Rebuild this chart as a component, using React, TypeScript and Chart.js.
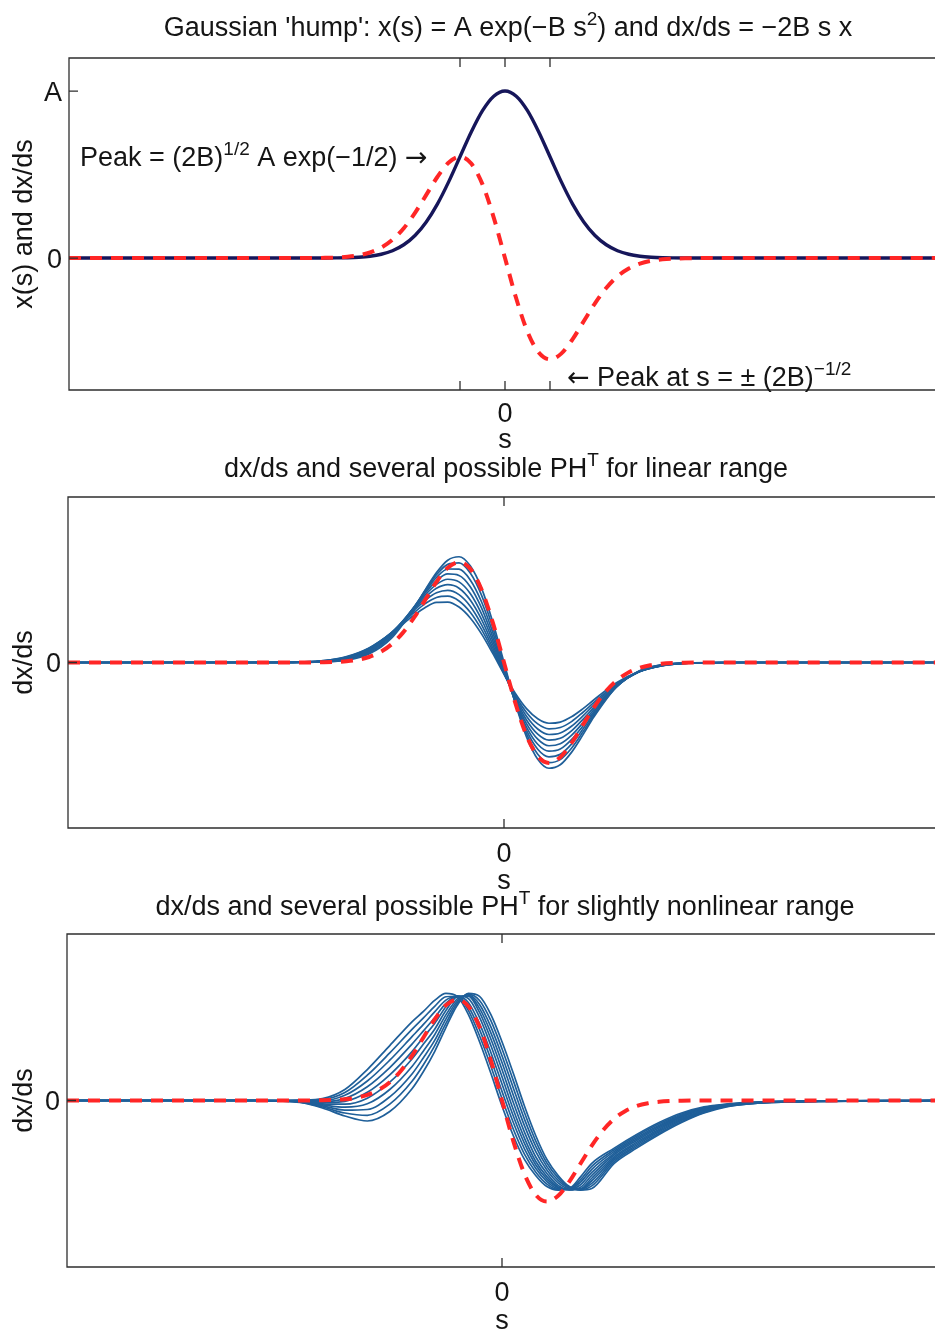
import React, { useEffect, useRef } from "react";
import { Chart, registerables } from "chart.js";

Chart.register(...registerables);

// ---------------- data ----------------
// s in units of (2B)^(-1/2); y in units of A
const X_MIN = -9.69;
const X_MAX = 9.69;

const S_FINE = [-9.69, -6, -4.5, -4, -3.75, -3.5, -3.25, -3, -2.75, -2.5, -2.25, -2, -1.75, -1.5, -1.25, -1, -0.75, -0.5, -0.25, 0,
  0.25, 0.5, 0.75, 1, 1.25, 1.5, 1.75, 2, 2.25, 2.5, 2.75, 3, 3.25, 3.5, 3.75, 4, 4.5, 6, 9.69];

const HUMP = [0, 0, 0, 0.0003, 0.0009, 0.0022, 0.0051, 0.0111, 0.0228, 0.0439, 0.0796, 0.1353, 0.2163, 0.3247, 0.4578, 0.6065, 0.7548, 0.8825, 0.9692, 1,
  0.9692, 0.8825, 0.7548, 0.6065, 0.4578, 0.3247, 0.2163, 0.1353, 0.0796, 0.0439, 0.0228, 0.0111, 0.0051, 0.0022, 0.0009, 0.0003, 0, 0, 0];

const DXDS = [0, 0, 0.0002, 0.0013, 0.0033, 0.0077, 0.0165, 0.0333, 0.0627, 0.1098, 0.179, 0.2707, 0.3785, 0.487, 0.5722, 0.6065, 0.5661, 0.4412, 0.2423, 0,
  -0.2423, -0.4412, -0.5661, -0.6065, -0.5722, -0.487, -0.3785, -0.2707, -0.179, -0.1098, -0.0627, -0.0333, -0.0165, -0.0077, -0.0033, -0.0013, -0.0002, 0, 0];

const S_LIN = [-9.69, -5, -4, -3.5, -3, -2.5, -2, -1.75, -1.5, -1.25, -1, -0.75, -0.5, -0.25, 0,
  0.25, 0.5, 0.75, 1, 1.25, 1.5, 1.75, 2, 2.5, 3, 3.5, 4, 5, 9.69];

const PH_LINEAR = [
  [0, 0, 0.003, 0.014, 0.051, 0.147, 0.328, 0.439, 0.543, 0.618, 0.639, 0.584, 0.449, 0.244, 0, -0.244, -0.449, -0.584, -0.639, -0.618, -0.543, -0.439, -0.328, -0.147, -0.051, -0.014, -0.003, 0, 0],
  [0, 0, 0.004, 0.016, 0.057, 0.157, 0.333, 0.436, 0.53, 0.593, 0.602, 0.541, 0.407, 0.212, -0.016, -0.242, -0.43, -0.554, -0.605, -0.587, -0.518, -0.422, -0.318, -0.148, -0.053, -0.015, -0.003, 0, 0],
  [0, 0, 0.005, 0.019, 0.063, 0.165, 0.335, 0.43, 0.514, 0.565, 0.564, 0.499, 0.367, 0.182, -0.03, -0.238, -0.41, -0.524, -0.57, -0.555, -0.493, -0.404, -0.308, -0.147, -0.054, -0.016, -0.004, 0, 0],
  [0, 0, 0.006, 0.022, 0.069, 0.172, 0.334, 0.421, 0.494, 0.535, 0.526, 0.458, 0.33, 0.155, -0.042, -0.233, -0.39, -0.494, -0.536, -0.523, -0.466, -0.385, -0.297, -0.145, -0.056, -0.017, -0.004, 0, 0],
  [0, 0, 0.007, 0.025, 0.075, 0.177, 0.33, 0.409, 0.472, 0.503, 0.487, 0.417, 0.294, 0.131, -0.051, -0.226, -0.369, -0.463, -0.503, -0.491, -0.44, -0.366, -0.284, -0.142, -0.056, -0.018, -0.005, 0, 0],
  [0, 0, 0.008, 0.028, 0.079, 0.18, 0.323, 0.394, 0.448, 0.47, 0.449, 0.378, 0.261, 0.108, -0.059, -0.218, -0.347, -0.433, -0.469, -0.458, -0.413, -0.345, -0.271, -0.139, -0.057, -0.019, -0.005, 0, 0],
  [0, 0, 0.009, 0.031, 0.083, 0.181, 0.314, 0.376, 0.421, 0.436, 0.41, 0.34, 0.229, 0.088, -0.064, -0.208, -0.325, -0.402, -0.435, -0.426, -0.385, -0.324, -0.256, -0.134, -0.056, -0.019, -0.005, 0, 0],
  [0, 0.001, 0.011, 0.033, 0.086, 0.18, 0.301, 0.356, 0.393, 0.401, 0.372, 0.304, 0.2, 0.071, -0.068, -0.198, -0.302, -0.371, -0.401, -0.393, -0.357, -0.302, -0.241, -0.129, -0.056, -0.02, -0.006, 0, 0],
  [0, 0.001, 0.012, 0.036, 0.088, 0.177, 0.286, 0.333, 0.363, 0.365, 0.335, 0.269, 0.173, 0.055, -0.07, -0.186, -0.279, -0.34, -0.367, -0.36, -0.328, -0.28, -0.225, -0.122, -0.054, -0.02, -0.006, 0, 0],
];

const S_NONLIN = [-9.69, -6, -5.5, -5, -4.5, -4, -3.5, -3, -2.5, -2, -1.75, -1.5, -1.25, -1, -0.75, -0.5, -0.25, 0,
  0.25, 0.5, 0.75, 1, 1.25, 1.5, 1.75, 2, 2.5, 3, 3.5, 4, 4.5, 5, 5.5, 6, 9.69];

const PH_NONLINEAR = [
  [0, 0, 0, 0, 0.003, 0.012, 0.066, 0.186, 0.33, 0.474, 0.535, 0.601, 0.643, 0.625, 0.517, 0.353, 0.165, -0.033, -0.21, -0.354, -0.45, -0.517, -0.538, -0.529, -0.459, -0.377, -0.286, -0.204, -0.132, -0.075, -0.038, -0.021, -0.012, -0.006, 0],
  [0, 0, 0, 0, 0.001, 0.006, 0.048, 0.152, 0.286, 0.429, 0.496, 0.566, 0.623, 0.626, 0.541, 0.389, 0.207, 0.011, -0.171, -0.322, -0.429, -0.502, -0.533, -0.531, -0.475, -0.395, -0.296, -0.213, -0.14, -0.081, -0.042, -0.023, -0.013, -0.007, 0],
  [0, 0, 0, -0.001, 0, -0.001, 0.031, 0.117, 0.242, 0.385, 0.457, 0.532, 0.603, 0.626, 0.565, 0.426, 0.249, 0.055, -0.131, -0.29, -0.407, -0.487, -0.529, -0.533, -0.49, -0.413, -0.306, -0.222, -0.148, -0.088, -0.046, -0.025, -0.014, -0.007, 0],
  [0, 0, 0, -0.001, -0.002, -0.007, 0.013, 0.083, 0.198, 0.34, 0.418, 0.497, 0.583, 0.627, 0.589, 0.462, 0.29, 0.099, -0.092, -0.258, -0.386, -0.472, -0.524, -0.535, -0.506, -0.432, -0.316, -0.231, -0.156, -0.094, -0.05, -0.027, -0.015, -0.008, 0],
  [0, 0, 0, -0.001, -0.004, -0.013, -0.005, 0.049, 0.154, 0.295, 0.38, 0.462, 0.563, 0.628, 0.613, 0.499, 0.332, 0.143, -0.053, -0.226, -0.365, -0.457, -0.519, -0.537, -0.521, -0.45, -0.326, -0.24, -0.164, -0.1, -0.054, -0.029, -0.016, -0.009, 0],
  [0, 0, 0, -0.002, -0.005, -0.02, -0.022, 0.014, 0.11, 0.251, 0.339, 0.428, 0.54, 0.622, 0.627, 0.529, 0.371, 0.186, -0.011, -0.19, -0.338, -0.439, -0.51, -0.536, -0.53, -0.467, -0.337, -0.25, -0.172, -0.107, -0.059, -0.03, -0.017, -0.009, 0],
  [0, 0, 0, -0.002, -0.007, -0.026, -0.04, -0.02, 0.066, 0.206, 0.298, 0.395, 0.514, 0.609, 0.631, 0.553, 0.408, 0.228, 0.033, -0.151, -0.306, -0.418, -0.495, -0.531, -0.532, -0.482, -0.347, -0.259, -0.18, -0.113, -0.063, -0.032, -0.018, -0.01, 0],
  [0, 0, 0, -0.002, -0.009, -0.032, -0.058, -0.054, 0.022, 0.161, 0.257, 0.361, 0.489, 0.596, 0.635, 0.577, 0.444, 0.269, 0.077, -0.112, -0.274, -0.397, -0.48, -0.526, -0.534, -0.498, -0.357, -0.268, -0.188, -0.119, -0.067, -0.034, -0.019, -0.011, 0],
  [0, 0, 0, -0.003, -0.01, -0.039, -0.075, -0.089, -0.022, 0.117, 0.215, 0.328, 0.463, 0.584, 0.639, 0.601, 0.481, 0.311, 0.121, -0.072, -0.242, -0.375, -0.465, -0.522, -0.536, -0.513, -0.367, -0.277, -0.196, -0.126, -0.071, -0.036, -0.02, -0.011, 0],
  [0, 0, 0, -0.003, -0.012, -0.045, -0.093, -0.123, -0.066, 0.072, 0.174, 0.294, 0.438, 0.571, 0.643, 0.625, 0.517, 0.353, 0.165, -0.033, -0.21, -0.354, -0.45, -0.517, -0.538, -0.529, -0.377, -0.286, -0.204, -0.132, -0.075, -0.038, -0.021, -0.012, 0],
];

// ticks
const TOP_X_TICKS = [-1, 0, 1]; // 0 and +/- (2B)^(-1/2)
const PLAIN_X_TICKS = [0];
const X_TICK_LABELS = [{ v: 0, label: "0" }];
const TOP_Y_TICKS = [{ v: 0, label: "0" }, { v: 1, label: "A" }];
const DX_Y_TICKS = [{ v: 0, label: "0" }];

// ---------------- styling ----------------
const W = 950;
const FONT = '"Liberation Sans", Arial, Helvetica, sans-serif';
const ARROW_FONT = '"DejaVu Sans", sans-serif';
const FS = 27;
const RED = "#ff2626";
const NAVY = "#16165a";
const STEEL = "#1f5f99";
const TEXT = "#151515";

type Seg = { t: string; sup?: boolean; arrow?: boolean };

function segFont(s: Seg) {
  if (s.sup) return `${Math.round(FS * 0.7)}px ${FONT}`;
  if (s.arrow) return `${FS}px ${ARROW_FONT}`;
  return `${FS}px ${FONT}`;
}

function drawRich(ctx: CanvasRenderingContext2D, segs: Seg[], x: number, y: number, align: "left" | "center") {
  const widths = segs.map((s) => {
    ctx.font = segFont(s);
    return ctx.measureText(s.t).width;
  });
  const total = widths.reduce((a, b) => a + b, 0);
  let cx = align === "center" ? x - total / 2 : x;
  ctx.textAlign = "left";
  ctx.textBaseline = "alphabetic";
  segs.forEach((s, i) => {
    ctx.font = segFont(s);
    ctx.fillText(s.t, cx, s.sup ? y - FS * 0.42 : y);
    cx += widths[i];
  });
}

type Spec = {
  title: Seg[];
  titleX: number;
  titleY: number;
  yLabel: string;
  yTicks: { v: number; label: string }[];
  xTicks: number[];
  xTickLabelDy: number;
  xTitleDy: number;
  notes?: { segs: Seg[]; x: number; y: number }[];
};

function makeDecor(spec: Spec) {
  return {
    id: "decor",
    afterDraw(chart: any) {
      const { ctx, chartArea: a } = chart;
      const xs = chart.scales.x;
      const ys = chart.scales.y;
      const tl = 9;
      ctx.save();
      ctx.strokeStyle = "#2e2e2e";
      ctx.lineWidth = 1.3;
      ctx.beginPath();
      ctx.rect(a.left, a.top, a.right - a.left, a.bottom - a.top);
      ctx.stroke();
      ctx.beginPath();
      for (const v of spec.xTicks) {
        const px = xs.getPixelForValue(v);
        ctx.moveTo(px, a.top);
        ctx.lineTo(px, a.top + tl);
        ctx.moveTo(px, a.bottom);
        ctx.lineTo(px, a.bottom - tl);
      }
      for (const t of spec.yTicks) {
        const py = ys.getPixelForValue(t.v);
        ctx.moveTo(a.left, py);
        ctx.lineTo(a.left + tl, py);
      }
      ctx.stroke();

      ctx.fillStyle = TEXT;
      ctx.font = `${FS}px ${FONT}`;
      ctx.textBaseline = "alphabetic";
      ctx.textAlign = "right";
      for (const t of spec.yTicks) ctx.fillText(t.label, a.left - 7, ys.getPixelForValue(t.v) + 9.7);
      ctx.textAlign = "center";
      for (const t of X_TICK_LABELS) ctx.fillText(t.label, xs.getPixelForValue(t.v), a.bottom + spec.xTickLabelDy);
      ctx.fillText("s", xs.getPixelForValue(0), a.bottom + spec.xTitleDy);

      ctx.save();
      ctx.translate(25, (a.top + a.bottom) / 2);
      ctx.rotate(-Math.PI / 2);
      ctx.textAlign = "center";
      ctx.textBaseline = "middle";
      ctx.fillText(spec.yLabel, 0, 0);
      ctx.restore();

      drawRich(ctx, spec.title, spec.titleX, spec.titleY, "center");
      for (const n of spec.notes ?? []) drawRich(ctx, n.segs, n.x, n.y, "left");
      ctx.restore();
    },
  };
}

const pts = (sx: number[], vy: number[]) => sx.map((x, i) => ({ x, y: vy[i] }));

function redDashed() {
  return {
    data: pts(S_FINE, DXDS),
    borderColor: RED,
    borderWidth: 4,
    borderDash: [12, 9],
    pointRadius: 0,
    fill: false,
  };
}

function bandLine(sx: number[], row: number[]) {
  return { data: pts(sx, row), borderColor: STEEL, borderWidth: 1.7, pointRadius: 0, fill: false };
}

function baseOptions(padding: any, yMin: number, yMax: number) {
  return {
    animation: false as const,
    responsive: false,
    maintainAspectRatio: false,
    devicePixelRatio: 1,
    events: [],
    layout: { padding },
    plugins: { legend: { display: false }, tooltip: { enabled: false }, title: { display: false } },
    scales: {
      x: { type: "linear" as const, min: X_MIN, max: X_MAX, display: false },
      y: { type: "linear" as const, min: yMin, max: yMax, display: false },
    },
    elements: { point: { radius: 0 }, line: { cubicInterpolationMode: "monotone" as const, tension: 0 } },
  };
}

function makePanel1(): any {
  return {
    type: "line",
    data: {
      datasets: [
        redDashed(),
        { data: pts(S_FINE, HUMP), borderColor: NAVY, borderWidth: 3.4, pointRadius: 0, fill: false },
      ],
    },
    options: baseOptions({ left: 69, top: 58, right: 9, bottom: 70 }, -0.79, 1.198),
    plugins: [
      makeDecor({
        title: [{ t: "Gaussian 'hump': x(s) = A exp(\u2212B s" }, { t: "2", sup: true }, { t: ") and dx/ds = \u22122B s x" }],
        titleX: 508,
        titleY: 36,
        yLabel: "x(s) and dx/ds",
        yTicks: TOP_Y_TICKS,
        xTicks: TOP_X_TICKS,
        xTickLabelDy: 32,
        xTitleDy: 58,
        notes: [
          { segs: [{ t: "Peak = (2B)" }, { t: "1/2", sup: true }, { t: " A exp(\u22121/2) " }, { t: "\u2192", arrow: true }], x: 80, y: 166 },
          { segs: [{ t: "\u2190", arrow: true }, { t: " Peak at s = \u00b1 (2B)" }, { t: "\u22121/2", sup: true }], x: 567, y: 386 },
        ],
      }),
    ],
  };
}

function makePanel2(): any {
  return {
    type: "line",
    data: {
      datasets: [redDashed(), ...PH_LINEAR.map((row) => bandLine(S_LIN, row))],
    },
    options: baseOptions({ left: 68, top: 47, right: 10, bottom: 72 }, -1, 1),
    plugins: [
      makeDecor({
        title: [{ t: "dx/ds and several possible PH" }, { t: "T", sup: true }, { t: " for linear range" }],
        titleX: 506,
        titleY: 27,
        yLabel: "dx/ds",
        yTicks: DX_Y_TICKS,
        xTicks: PLAIN_X_TICKS,
        xTickLabelDy: 34,
        xTitleDy: 61,
      }),
    ],
  };
}

function makePanel3(): any {
  return {
    type: "line",
    data: {
      datasets: [redDashed(), ...PH_NONLINEAR.map((row) => bandLine(S_NONLIN, row))],
    },
    options: baseOptions({ left: 67, top: 44, right: 13, bottom: 64 }, -1, 1),
    plugins: [
      makeDecor({
        title: [{ t: "dx/ds and several possible PH" }, { t: "T", sup: true }, { t: " for slightly nonlinear range" }],
        titleX: 505,
        titleY: 25,
        yLabel: "dx/ds",
        yTicks: DX_Y_TICKS,
        xTicks: PLAIN_X_TICKS,
        xTickLabelDy: 34,
        xTitleDy: 62,
      }),
    ],
  };
}

function Panel({ top, height, make }: { top: number; height: number; make: () => any }) {
  const ref = useRef<HTMLCanvasElement | null>(null);
  useEffect(() => {
    const chart = new Chart(ref.current as HTMLCanvasElement, make());
    return () => chart.destroy();
  }, [make]);
  return (
    <canvas
      ref={ref}
      width={W}
      height={height}
      style={{ position: "absolute", left: 0, top, width: W, height, display: "block" }}
    />
  );
}

export default function App() {
  return (
    <div
      style={{
        position: "absolute",
        left: 0,
        top: 0,
        width: 935,
        height: 1331,
        overflow: "hidden",
        background: "#ffffff",
      }}
    >
      <Panel top={0} height={460} make={makePanel1} />
      <Panel top={450} height={450} make={makePanel2} />
      <Panel top={890} height={441} make={makePanel3} />
    </div>
  );
}
